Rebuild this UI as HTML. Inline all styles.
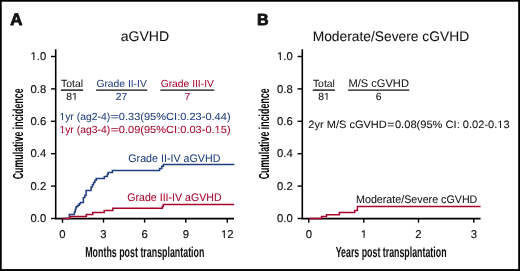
<!DOCTYPE html>
<html><head><meta charset="utf-8"><style>
html,body{margin:0;padding:0;background:#fff;}
svg{display:block;will-change:transform;text-rendering:geometricPrecision;font-family:"Liberation Sans", sans-serif;}
</style></head><body>
<svg width="520" height="271" viewBox="0 0 520 271">
<rect width="520" height="271" fill="#fff"/>
<rect x="0" y="0" width="520" height="1.7" fill="#000"/>
<rect x="0" y="0" width="1.7" height="271" fill="#000"/>
<rect x="518.2" y="0" width="1.8" height="271" fill="#000"/>
<rect x="0" y="269.1" width="520" height="1.9" fill="#000"/>
<path d="M55.7 49.3 V218.6" stroke="#000" stroke-width="1.6" fill="none"/>
<path d="M54.900000000000006 218.6 H234.0" stroke="#000" stroke-width="1.6" fill="none"/>
<path d="M51.0 56.5 H55.7" stroke="#000" stroke-width="1.4"/>
<text x="46.2" y="60.0" font-size="11.3" fill="#111" text-anchor="end" stroke="#111" stroke-width="0.15">1.0</text>
<path d="M51.0 88.9 H55.7" stroke="#000" stroke-width="1.4"/>
<text x="46.2" y="92.5" font-size="11.3" fill="#111" text-anchor="end" stroke="#111" stroke-width="0.15">0.8</text>
<path d="M51.0 121.3 H55.7" stroke="#000" stroke-width="1.4"/>
<text x="46.2" y="124.8" font-size="11.3" fill="#111" text-anchor="end" stroke="#111" stroke-width="0.15">0.6</text>
<path d="M51.0 153.7 H55.7" stroke="#000" stroke-width="1.4"/>
<text x="46.2" y="157.2" font-size="11.3" fill="#111" text-anchor="end" stroke="#111" stroke-width="0.15">0.4</text>
<path d="M51.0 186.1 H55.7" stroke="#000" stroke-width="1.4"/>
<text x="46.2" y="189.7" font-size="11.3" fill="#111" text-anchor="end" stroke="#111" stroke-width="0.15">0.2</text>
<path d="M51.0 218.5 H55.7" stroke="#000" stroke-width="1.4"/>
<text x="46.2" y="222.1" font-size="11.3" fill="#111" text-anchor="end" stroke="#111" stroke-width="0.15">0.0</text>
<path d="M62.5 218.6 V222.7" stroke="#000" stroke-width="1.4"/>
<text x="62.5" y="237.7" font-size="11.3" fill="#111" text-anchor="middle" stroke="#111" stroke-width="0.15">0</text>
<path d="M103.5 218.6 V222.7" stroke="#000" stroke-width="1.4"/>
<text x="103.5" y="237.7" font-size="11.3" fill="#111" text-anchor="middle" stroke="#111" stroke-width="0.15">3</text>
<path d="M144.6 218.6 V222.7" stroke="#000" stroke-width="1.4"/>
<text x="144.6" y="237.7" font-size="11.3" fill="#111" text-anchor="middle" stroke="#111" stroke-width="0.15">6</text>
<path d="M185.8 218.6 V222.7" stroke="#000" stroke-width="1.4"/>
<text x="185.8" y="237.7" font-size="11.3" fill="#111" text-anchor="middle" stroke="#111" stroke-width="0.15">9</text>
<path d="M227.3 218.6 V222.7" stroke="#000" stroke-width="1.4"/>
<text x="227.3" y="237.7" font-size="11.3" fill="#111" text-anchor="middle" stroke="#111" stroke-width="0.15">12</text>
<text transform="translate(22.7 133.85) rotate(-90) scale(1 1)" x="0" y="0" font-size="14.5" font-weight="bold" text-anchor="middle" textLength="91.0" lengthAdjust="spacingAndGlyphs">Cumulative incidence</text>
<path d="M302.3 49.3 V218.6" stroke="#000" stroke-width="1.6" fill="none"/>
<path d="M301.5 218.6 H480.6" stroke="#000" stroke-width="1.6" fill="none"/>
<path d="M297.6 56.5 H302.3" stroke="#000" stroke-width="1.4"/>
<text x="292.8" y="60.0" font-size="11.3" fill="#111" text-anchor="end" stroke="#111" stroke-width="0.15">1.0</text>
<path d="M297.6 88.9 H302.3" stroke="#000" stroke-width="1.4"/>
<text x="292.8" y="92.5" font-size="11.3" fill="#111" text-anchor="end" stroke="#111" stroke-width="0.15">0.8</text>
<path d="M297.6 121.3 H302.3" stroke="#000" stroke-width="1.4"/>
<text x="292.8" y="124.8" font-size="11.3" fill="#111" text-anchor="end" stroke="#111" stroke-width="0.15">0.6</text>
<path d="M297.6 153.7 H302.3" stroke="#000" stroke-width="1.4"/>
<text x="292.8" y="157.2" font-size="11.3" fill="#111" text-anchor="end" stroke="#111" stroke-width="0.15">0.4</text>
<path d="M297.6 186.1 H302.3" stroke="#000" stroke-width="1.4"/>
<text x="292.8" y="189.7" font-size="11.3" fill="#111" text-anchor="end" stroke="#111" stroke-width="0.15">0.2</text>
<path d="M297.6 218.5 H302.3" stroke="#000" stroke-width="1.4"/>
<text x="292.8" y="222.1" font-size="11.3" fill="#111" text-anchor="end" stroke="#111" stroke-width="0.15">0.0</text>
<path d="M308.8 218.6 V222.7" stroke="#000" stroke-width="1.4"/>
<text x="308.8" y="237.7" font-size="11.3" fill="#111" text-anchor="middle" stroke="#111" stroke-width="0.15">0</text>
<path d="M363.8 218.6 V222.7" stroke="#000" stroke-width="1.4"/>
<text x="363.8" y="237.7" font-size="11.3" fill="#111" text-anchor="middle" stroke="#111" stroke-width="0.15">1</text>
<path d="M418.5 218.6 V222.7" stroke="#000" stroke-width="1.4"/>
<text x="418.5" y="237.7" font-size="11.3" fill="#111" text-anchor="middle" stroke="#111" stroke-width="0.15">2</text>
<path d="M473.8 218.6 V222.7" stroke="#000" stroke-width="1.4"/>
<text x="473.8" y="237.7" font-size="11.3" fill="#111" text-anchor="middle" stroke="#111" stroke-width="0.15">3</text>
<text transform="translate(269.3 133.85) rotate(-90) scale(1 1)" x="0" y="0" font-size="14.5" font-weight="bold" text-anchor="middle" textLength="91.0" lengthAdjust="spacingAndGlyphs">Cumulative incidence</text>
<text x="85.2228" y="256.9" font-size="14.5" fill="#111" text-anchor="start" font-weight="bold" textLength="119.2" lengthAdjust="spacingAndGlyphs">Months post transplantation</text>
<text x="335.65712499999995" y="256.9" font-size="14.5" fill="#111" text-anchor="start" font-weight="bold" textLength="110.9" lengthAdjust="spacingAndGlyphs">Years post transplantation</text>
<text x="10.1775" y="25.0" font-size="16.9" fill="#111" text-anchor="start" font-weight="bold" stroke="#111" stroke-width="0.8" stroke-linejoin="round">A</text>
<text x="257.0535" y="25.0" font-size="16.1" fill="#111" text-anchor="start" font-weight="bold" stroke="#111" stroke-width="0.8" stroke-linejoin="round">B</text>
<text x="120.66685" y="41.0" font-size="14.07" fill="#111" text-anchor="start" stroke="#111" stroke-width="0.05">aGVHD</text>
<text x="312.696" y="41.4" font-size="13.8" fill="#111" text-anchor="start" stroke="#111" stroke-width="0.05">Moderate/Severe cGVHD</text>
<path d="M60.9 90.1 H83.1" stroke="#111" stroke-width="1.4"/>
<text x="72.0" y="87.15" font-size="10.4" fill="#111" text-anchor="middle" stroke="#111" stroke-width="0.03">Total</text>
<text x="72.0" y="99.6" font-size="10.3" fill="#111" text-anchor="middle" stroke="#111" stroke-width="0.08">81</text>
<path d="M96.1 90.1 H147.2" stroke="#111" stroke-width="1.4"/>
<text x="121.6" y="87.15" font-size="10.3" fill="#203d7d" text-anchor="middle" stroke="#203d7d" stroke-width="0.03">Grade II-IV</text>
<text x="121.6" y="99.6" font-size="10.3" fill="#203d7d" text-anchor="middle" stroke="#203d7d" stroke-width="0.08">27</text>
<path d="M160.4 90.1 H214.2" stroke="#111" stroke-width="1.4"/>
<text x="187.3" y="87.15" font-size="10.3" fill="#a6062c" text-anchor="middle" stroke="#a6062c" stroke-width="0.03">Grade III-IV</text>
<text x="187.3" y="99.6" font-size="10.3" fill="#a6062c" text-anchor="middle" stroke="#a6062c" stroke-width="0.08">7</text>
<path d="M312.8 90.1 H334.9" stroke="#111" stroke-width="1.4"/>
<text x="323.9" y="87.15" font-size="10.4" fill="#111" text-anchor="middle" stroke="#111" stroke-width="0.03">Total</text>
<text x="323.9" y="99.6" font-size="10.3" fill="#111" text-anchor="middle" stroke="#111" stroke-width="0.08">81</text>
<path d="M348.1 90.1 H409.3" stroke="#111" stroke-width="1.4"/>
<text x="378.7" y="87.15" font-size="11.1" fill="#111" text-anchor="middle" stroke="#111" stroke-width="0.03">M/S cGVHD</text>
<text x="378.7" y="99.6" font-size="10.3" fill="#111" text-anchor="middle" stroke="#111" stroke-width="0.08">6</text>
<text x="59.42" y="120.1" font-size="10.3" fill="#203d7d" text-anchor="start" textLength="50.71" lengthAdjust="spacingAndGlyphs" stroke="#203d7d" stroke-width="0.05">1yr (ag2-4)</text>
<text x="110.46" y="120.1" font-size="10.3" fill="#203d7d" text-anchor="start" textLength="8.67" lengthAdjust="spacingAndGlyphs" stroke="#203d7d" stroke-width="0.1">=</text>
<text x="118.81" y="120.1" font-size="10.3" fill="#203d7d" text-anchor="start" textLength="111.78" lengthAdjust="spacingAndGlyphs" stroke="#203d7d" stroke-width="0.05">0.33(95%CI:0.23-0.44)</text>
<text x="59.42" y="132.5" font-size="10.3" fill="#a6062c" text-anchor="start" textLength="50.71" lengthAdjust="spacingAndGlyphs" stroke="#a6062c" stroke-width="0.05">1yr (ag3-4)</text>
<text x="110.46" y="132.5" font-size="10.3" fill="#a6062c" text-anchor="start" textLength="8.67" lengthAdjust="spacingAndGlyphs" stroke="#a6062c" stroke-width="0.1">=</text>
<text x="118.81" y="132.5" font-size="10.3" fill="#a6062c" text-anchor="start" textLength="111.78" lengthAdjust="spacingAndGlyphs" stroke="#a6062c" stroke-width="0.05">0.09(95%CI:0.03-0.15)</text>
<text x="308.35" y="128.1" font-size="10.6" fill="#111" text-anchor="start" textLength="78.47" lengthAdjust="spacingAndGlyphs" stroke="#111" stroke-width="0.05">2yr M/S cGVHD</text>
<text x="387.29" y="128.1" font-size="10.6" fill="#111" text-anchor="start" textLength="7.10" lengthAdjust="spacingAndGlyphs" stroke="#111" stroke-width="0.1">=</text>
<text x="394.96" y="128.1" font-size="10.6" fill="#111" text-anchor="start" textLength="114.74" lengthAdjust="spacingAndGlyphs" stroke="#111" stroke-width="0.05">0.08(95% CI: 0.02-0.13</text>
<text x="128.26500000000001" y="161.6" font-size="11.0" fill="#203d7d" text-anchor="start" textLength="92.2" lengthAdjust="spacingAndGlyphs" stroke="#203d7d" stroke-width="0.05">Grade II-IV aGVHD</text>
<text x="127.27" y="200.9" font-size="11.0" fill="#a6062c" text-anchor="start" textLength="94.3" lengthAdjust="spacingAndGlyphs" stroke="#a6062c" stroke-width="0.05">Grade III-IV aGVHD</text>
<text x="356.044" y="202.9" font-size="11.0" fill="#111" text-anchor="start" textLength="121.3" lengthAdjust="spacingAndGlyphs" stroke="#111" stroke-width="0.05">Moderate/Severe cGVHD</text>
<path d="M62.5 218.5 H69.3 V214.4 H74.4 V212.0 H75.3 V209.5 H75.9 V207.5 H76.5 V206.6 H77.8 V205.2 H79.2 V203.8 H80.4 V202.6 H83.4 V197.6 H84.9 V195.3 H86.1 V190.5 H91.1 V186.9 H92.4 V184.7 H93.5 V182.5 H94.9 V180.3 H96.3 V178.6 H104.3 V176.5 H107.3 V174.3 H108.2 V172.4 H112.4 V170.5 H159.6 V168.6 H161.8 V166.3 H163.4 V164.4 H234.3" stroke="#203d7d" stroke-width="1.5" fill="none"/>
<path d="M62.5 218.4 H70 V216.5 H86.3 V214.6 H92.8 V212.5 H104.2 V210.4 H112.8 V208.2 H162.3 V206.4 H163.3 V204.5 H234.1" stroke="#a6062c" stroke-width="1.5" fill="none"/>
<path d="M308.8 218.4 H321.5 V216.5 H326.5 V214.7 H339.3 V212.5 H354.7 V210.4 H357.4 V206.4 H480.6" stroke="#a6062c" stroke-width="1.5" fill="none"/>
<g><rect x="30.57" y="58.58" width="2.71" height="2.09" fill="#fff"/><rect x="34.38" y="58.58" width="2.62" height="2.09" fill="#fff"/><rect x="221.10" y="236.58" width="2.71" height="2.09" fill="#fff"/><rect x="224.91" y="236.58" width="2.62" height="2.09" fill="#fff"/><rect x="277.17" y="58.58" width="2.71" height="2.09" fill="#fff"/><rect x="280.98" y="58.58" width="2.62" height="2.09" fill="#fff"/><rect x="360.74" y="236.58" width="2.71" height="2.09" fill="#fff"/><rect x="364.55" y="236.58" width="2.62" height="2.09" fill="#fff"/><rect x="72.03" y="98.69" width="2.50" height="1.95" fill="#fff"/><rect x="75.55" y="98.69" width="2.42" height="1.95" fill="#fff"/><rect x="323.93" y="98.69" width="2.50" height="1.95" fill="#fff"/><rect x="327.45" y="98.69" width="2.42" height="1.95" fill="#fff"/><rect x="59.49" y="118.71" width="2.49" height="1.92" fill="#fff"/><rect x="63.00" y="118.71" width="2.41" height="1.92" fill="#fff"/><rect x="59.49" y="130.71" width="2.49" height="1.92" fill="#fff"/><rect x="63.00" y="130.71" width="2.41" height="1.92" fill="#fff"/><rect x="214.72" y="130.71" width="2.62" height="1.92" fill="#fff"/><rect x="218.42" y="130.71" width="2.53" height="1.92" fill="#fff"/><rect x="497.47" y="126.68" width="2.62" height="1.94" fill="#fff"/><rect x="501.17" y="126.68" width="2.54" height="1.94" fill="#fff"/></g>
</svg>
</body></html>
